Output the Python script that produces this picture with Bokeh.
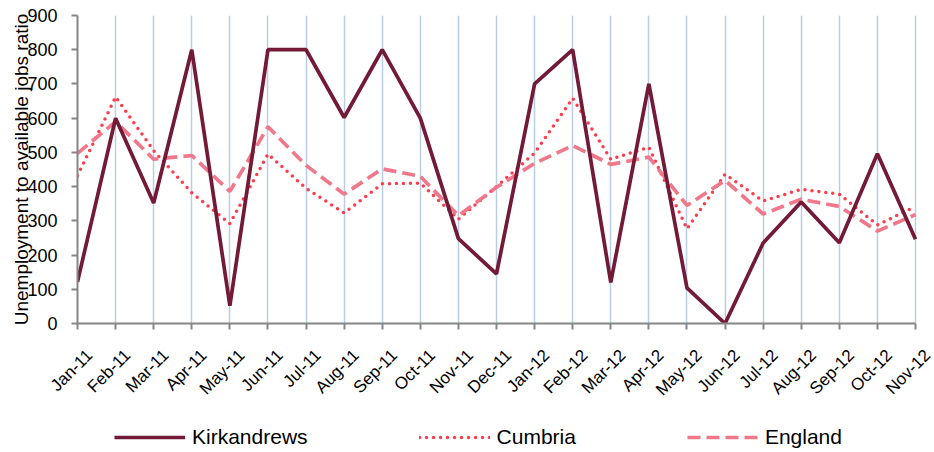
import math
from bokeh.plotting import figure
from bokeh.layouts import column
from bokeh.models import (Range1d, FixedTicker, Legend, LegendItem, ColumnDataSource, LinearAxis)
from bokeh.embed import file_html
from bokeh.resources import INLINE

months = ["Jan-11", "Feb-11", "Mar-11", "Apr-11", "May-11", "Jun-11", "Jul-11", "Aug-11",
          "Sep-11", "Oct-11", "Nov-11", "Dec-11", "Jan-12", "Feb-12", "Mar-12", "Apr-12",
          "May-12", "Jun-12", "Jul-12", "Aug-12", "Sep-12", "Oct-12", "Nov-12"]
kirkandrews = [122, 600, 352, 800, 52, 800, 800, 602, 800, 600, 248, 145,
               700, 800, 120, 700, 104, 0, 235, 355, 236, 496, 246]
cumbria = [432, 662, 505, 382, 292, 495, 395, 323, 408, 410, 305, 400,
           498, 658, 480, 515, 277, 436, 358, 392, 378, 288, 342]
england = [497, 590, 480, 491, 386, 575, 462, 378, 452, 430, 315, 398,
           468, 520, 465, 486, 345, 418, 320, 363, 342, 270, 318]
y_ticks = [0, 100, 200, 300, 400, 500, 600, 700, 800, 900]
series_names = ["Kirkandrews", "Cumbria", "England"]

x = list(range(len(months)))
src = ColumnDataSource(data=dict(x=x, Kirkandrews=kirkandrews, Cumbria=cumbria, England=england))

FONT = "Liberation Sans"
AXIS_GREY = "#868686"
STYLES = {
    "Kirkandrews": dict(line_color="#731A36", line_width=3.7),
    "Cumbria": dict(line_color="#FF3C4C", line_width=3.5, line_dash="0 7", line_cap="round"),
    "England": dict(line_color="#F0788B", line_width=3.7, line_dash="13 6"),
}

n = len(months) - 1
label_shift = 0.315  # rotated category labels sit a little right of their ticks

p = figure(width=934, height=420, output_backend="svg", toolbar_location=None,
           x_range=Range1d(0, n + label_shift), y_range=Range1d(0, 900),
           min_border_left=77, min_border_right=7, min_border_top=15, min_border_bottom=97)
p.outline_line_color = None
p.background_fill_color = "white"
p.border_fill_color = "white"
p.extra_x_ranges = {"lbl": Range1d(-label_shift, n)}

# main x axis: line and tick marks only (ticks as minor ticks, so no labels)
xa = p.xaxis[0]
xa.ticker = FixedTicker(ticks=[], minor_ticks=x)
xa.bounds = (0, n)
xa.axis_line_color = AXIS_GREY
xa.axis_line_width = 2
xa.major_tick_line_color = None
xa.minor_tick_line_color = AXIS_GREY
xa.minor_tick_line_width = 2
xa.minor_tick_in = 0
xa.minor_tick_out = 6
xa.major_label_standoff = 0

ya = p.yaxis[0]
ya.ticker = FixedTicker(ticks=y_ticks)
ya.axis_line_color = AXIS_GREY
ya.axis_line_width = 2
ya.major_tick_line_color = AXIS_GREY
ya.major_tick_line_width = 2
ya.major_tick_in = 0
ya.major_tick_out = 6
ya.minor_tick_line_color = None
ya.major_label_text_font = FONT
ya.major_label_text_color = "black"
ya.major_label_text_font_size = "18px"
ya.major_label_standoff = 14
ya.axis_label = "Unemployment to available jobs ratio"
ya.axis_label_text_font = FONT
ya.axis_label_text_font_size = "19px"
ya.axis_label_text_font_style = "normal"
ya.axis_label_text_color = "black"
ya.axis_label_standoff = -8

# label-only x axis
xl = LinearAxis(x_range_name="lbl", ticker=FixedTicker(ticks=x))
xl.major_label_overrides = {i: m for i, m in enumerate(months)}
xl.major_label_orientation = math.pi / 4
xl.axis_line_color = None
xl.major_tick_line_color = None
xl.minor_tick_line_color = None
xl.major_tick_in = 0
xl.major_tick_out = 0
xl.major_label_standoff = 23
xl.major_label_text_font = FONT
xl.major_label_text_font_size = "17px"
xl.major_label_text_color = "black"
p.add_layout(xl, "below")

p.xgrid.ticker = FixedTicker(ticks=x)
p.xgrid.grid_line_color = "#B9CDE5"
p.xgrid.grid_line_width = 1.5
p.ygrid.grid_line_color = None

for name in ["Cumbria", "England", "Kirkandrews"]:
    p.line("x", name, source=src, **STYLES[name])

# legend strip (its series lie outside its view, only the legend shows)
lg = figure(width=934, height=32, output_backend="svg", toolbar_location=None,
            x_axis_location=None, y_axis_location=None,
            x_range=Range1d(0, n + label_shift), y_range=Range1d(2000, 2001),
            min_border_left=77, min_border_right=7, min_border_top=0, min_border_bottom=0)
lg.outline_line_color = None
lg.xgrid.grid_line_color = None
lg.ygrid.grid_line_color = None
items = []
for name in series_names:
    r = lg.line("x", name, source=src, **STYLES[name])
    items.append(LegendItem(label=name, renderers=[r]))
legend = Legend(items=items, orientation="horizontal", location=(37, 3))
legend.border_line_color = None
legend.background_fill_alpha = 0
legend.padding = 0
legend.margin = 0
legend.glyph_width = 71
legend.glyph_height = 20
legend.label_standoff = 7
legend.spacing = 111
legend.label_text_font = FONT
legend.label_text_font_size = "21px"
legend.label_text_color = "black"
lg.add_layout(legend, "center")

layout = column(p, lg, spacing=0)
open("out.html", "w").write(file_html(layout, INLINE))
